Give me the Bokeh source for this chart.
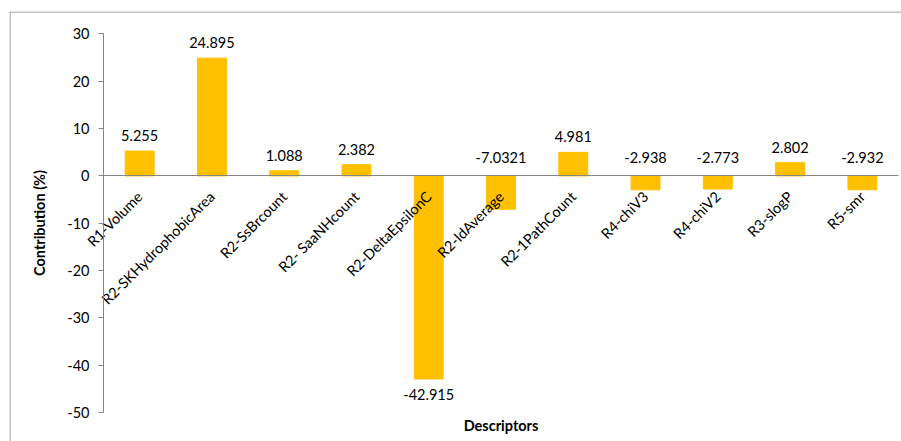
import math
from bokeh.plotting import figure
from bokeh.models import ColumnDataSource, Range1d, Label, FixedTicker, Span
from bokeh.core.properties import value
from bokeh.embed import file_html
from bokeh.resources import INLINE

descriptors = ["R1-Volume", "R2-SKHydrophobicArea", "R2-SsBrcount", "R2- SaaNHcount",
               "R2-DeltaEpsilonC", "R2-IdAverage", "R2-1PathCount", "R4-chiV3",
               "R4-chiV2", "R3-slogP", "R5-smr"]
contributions = [5.255, 24.895, 1.088, 2.382, -42.915, -7.0321, 4.981,
                 -2.938, -2.773, 2.802, -2.932]
value_labels = ["5.255", "24.895", "1.088", "2.382", "-42.915", "-7.0321", "4.981",
                "-2.938", "-2.773", "2.802", "-2.932"]
y_ticks = [-50, -40, -30, -20, -10, 0, 10, 20, 30]

FONT = "Lato"
FS = "14.5px"
AXIS_GRAY = "#868686"
BORDER_GRAY = "#898989"
BAR = "#FFC000"

n = len(descriptors)
xpos = [i + 0.5 for i in range(n)]          # category centres on a numeric scale
ymin, ymax = y_ticks[0], y_ticks[-1]

# visible window of the chart box (the box runs past the right/bottom edges)
X_START, X_END = -1.3007, n + 0.0415
Y_START, Y_END = -56.13, 34.755
PX_X = 892 / (X_END - X_START)   # pixels per unit
PX_Y = 430 / (Y_END - Y_START)


def label_pos(v):
    if v >= 0:
        return v + 3.3
    if v > -10:
        return 4.0
    return v - 3.3


src = ColumnDataSource(dict(
    x=xpos,
    y=contributions,
    lab=value_labels,
    ly=[label_pos(v) for v in contributions],
))

p = figure(x_range=Range1d(X_START, X_END), y_range=Range1d(Y_START, Y_END),
           width=901, height=441, title=None, output_backend="svg",
           toolbar_location=None,
           min_border_left=9, min_border_right=0, min_border_top=11,
           min_border_bottom=0)

p.vbar(x="x", top="y", width=0.4, source=src, fill_color=BAR, line_color=BAR)
p.text(x="x", y="ly", text="lab", source=src, text_align="center",
       text_baseline="middle", text_font=value(FONT), text_font_size=FS,
       text_color="#000000")

p.xgrid.visible = False
p.ygrid.visible = False
p.outline_line_color = None

# chart-box border: only its top and left edges are inside the window
p.add_layout(Span(location=Y_END - 0.5 / PX_Y, dimension="width",
                  line_color=BORDER_GRAY, line_width=1))
p.add_layout(Span(location=X_START + 0.5 / PX_X, dimension="height",
                  line_color=BORDER_GRAY, line_width=1))

# category axis crossing at zero
xa = p.xaxis[0]
xa.fixed_location = 0
xa.bounds = (0, n)
xa.ticker = FixedTicker(ticks=xpos)
xa.major_label_overrides = {xv: name for xv, name in zip(xpos, descriptors)}
xa.major_label_orientation = math.pi / 4
xa.major_tick_line_color = None
xa.minor_tick_line_color = None
xa.axis_line_color = AXIS_GRAY
xa.major_label_text_font = FONT
xa.major_label_text_font_size = FS
xa.major_label_text_color = "#000000"
xa.major_label_standoff = 12

ya = p.yaxis[0]
ya.fixed_location = 0
ya.bounds = (ymin, ymax)
ya.ticker = FixedTicker(ticks=y_ticks)
ya.major_label_overrides = {t: str(t) for t in y_ticks}
ya.minor_tick_line_color = None
ya.major_tick_out = 5
ya.major_tick_in = 0
ya.major_tick_line_color = AXIS_GRAY
ya.axis_line_color = AXIS_GRAY
ya.major_label_text_font = FONT
ya.major_label_text_font_size = FS
ya.major_label_text_color = "#000000"
ya.major_label_standoff = 9
ya.axis_label = "Contribution (%)"
ya.axis_label_text_font = FONT
ya.axis_label_text_font_size = FS
ya.axis_label_text_font_style = "bold"
ya.axis_label_text_color = "#000000"
ya.axis_label_standoff = 16

p.add_layout(Label(x=n / 2, y=16, x_units="data", y_units="screen",
                   text="Descriptors", text_align="center", text_baseline="middle",
                   text_font=FONT, text_font_size=FS, text_font_style="bold",
                   text_color="#000000"))

open("out.html", "w").write(file_html(p, INLINE))
